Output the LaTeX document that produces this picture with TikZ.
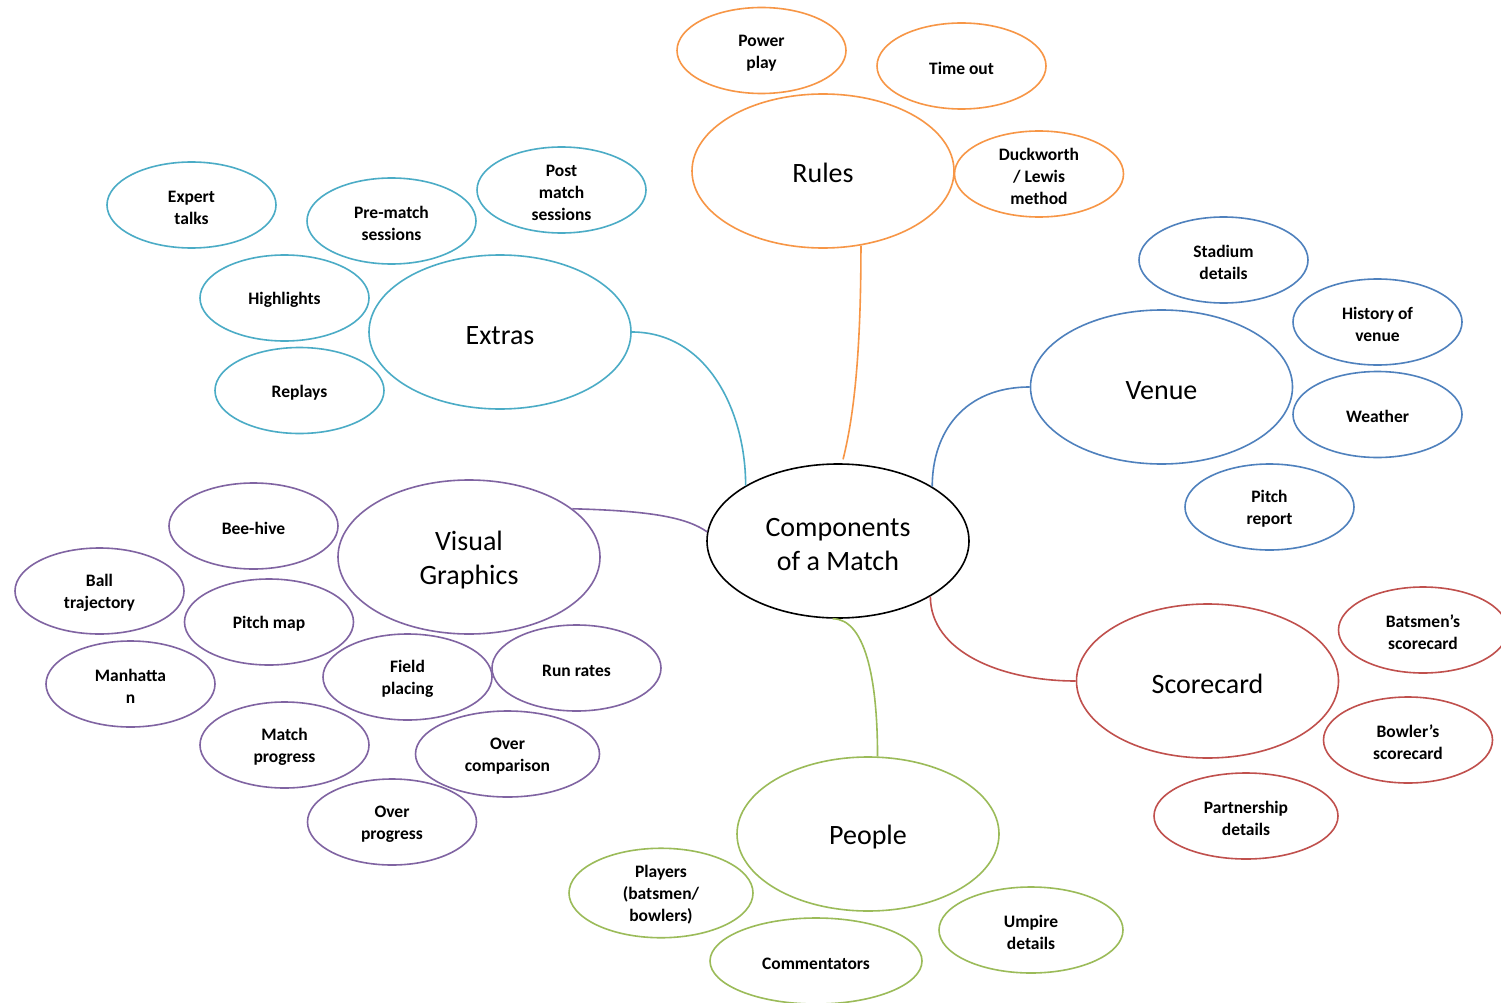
\documentclass[tikz,border=0pt]{standalone}
\usepackage{fontspec}
\setmainfont{Carlito}
\usetikzlibrary{shapes.geometric}
\definecolor{corange}{HTML}{F79646}
\definecolor{cteal}{HTML}{4BACC6}
\definecolor{cblue}{HTML}{4F81BD}
\definecolor{cred}{HTML}{C0504D}
\definecolor{cpurple}{HTML}{8064A2}
\definecolor{cgreen}{HTML}{9BBB59}
\newcommand{\tfix}{\rule{0pt}{0.95em}}
\newcommand{\tfixb}{\rule{0pt}{0.92em}}
\begin{document}
\begin{tikzpicture}[x=1pt,y=-1pt,
  bub/.style={ellipse, draw, line width=1.6pt, inner sep=0pt, minimum width=169pt, minimum height=86pt, align=center, font=\fontsize{17.5}{22}\selectfont\bfseries},
  wbub/.style={bub, minimum width=184pt},
  big/.style={ellipse, draw, line width=1.6pt, inner sep=0pt, minimum width=262pt, minimum height=154pt, align=center, font=\fontsize{28}{34}\selectfont},
  link/.style={line width=1.6pt}]
\useasboundingbox (0,0) rectangle (1501,1003);
\clip (0,0) rectangle (1501,1003);
\fill[white] (0,0) rectangle (1501,1003);

% centre
\node[big, draw=black] (comp) at (838,541) {\tfixb Components\\of a Match};

% Rules
\node[big, draw=corange] (rules) at (823,171) {\rule{0pt}{0.8em}Rules};
\node[bub, draw=corange] (power) at (761.5,50.5) {\tfix Power\\play};
\node[bub, draw=corange] (timeout) at (961.5,66) {\tfix Time out};
\node[bub, draw=corange] (dl) at (1039,174) {\tfix Duckworth\\/ Lewis\\method};

% Extras
\node[big, draw=cteal] (extras) at (500,332) {\tfixb Extras};
\node[bub, draw=cteal] (expert) at (191.5,205) {\tfix Expert\\talks};
\node[bub, draw=cteal] (prematch) at (391.5,221) {\tfix Pre-match\\sessions};
\node[bub, draw=cteal] (postmatch) at (561.5,190) {\tfix Post\\match\\sessions};
\node[bub, draw=cteal] (highlights) at (284.5,298) {\tfix Highlights};
\node[bub, draw=cteal] (replays) at (299.5,390.5) {\tfix Replays};

% Venue
\node[big, draw=cblue] (venue) at (1161.5,387) {\tfixb Venue};
\node[bub, draw=cblue] (stadium) at (1223.5,260) {\tfix Stadium\\details};
\node[bub, draw=cblue] (history) at (1377.5,322) {\tfix History of\\venue};
\node[bub, draw=cblue] (weather) at (1377.5,414.5) {\tfix Weather};
\node[bub, draw=cblue] (pitchrep) at (1269.5,507) {\tfix Pitch\\report};

% Visual Graphics
\node[big, draw=cpurple] (vis) at (469,557) {\tfixb Visual\\Graphics};
\node[bub, draw=cpurple] (beehive) at (253.5,526) {\tfix Bee-hive};
\node[bub, draw=cpurple] (ball) at (99.5,591) {\tfix Ball\\trajectory};
\node[bub, draw=cpurple] (pitchmap) at (269,622) {\tfix Pitch map};
\node[bub, draw=cpurple] (manhattan) at (130.5,684) {\tfix Manhatta\\n};
\node[bub, draw=cpurple] (field) at (407.5,677) {\tfix Field\\placing};
\node[bub, draw=cpurple] (runrates) at (576.5,668) {\tfix Run rates};
\node[bub, draw=cpurple] (matchprog) at (284.5,745) {\tfix Match\\progress};
\node[wbub, draw=cpurple] (overcomp) at (507.5,754) {\tfix Over\\comparison};
\node[bub, draw=cpurple] (overprog) at (392,822) {\tfix Over\\progress};

% Scorecard
\node[big, draw=cred] (score) at (1207.5,681) {\tfixb Scorecard};
\node[bub, draw=cred] (bats) at (1423,630) {\tfix Batsmen’s\\scorecard};
\node[bub, draw=cred] (bowl) at (1408,740) {\tfix Bowler’s\\scorecard};
\node[wbub, draw=cred] (partner) at (1246,816) {\tfix Partnership\\details};

% People
\node[big, draw=cgreen] (people) at (868,834) {\tfixb People};
\node[wbub, draw=cgreen] (players) at (661,893) {\tfix Players\\(batsmen/\\bowlers)};
\node[bub, draw=cgreen, minimum width=212pt] (comm) at (816,961) {\tfix Commentators};
\node[wbub, draw=cgreen] (umpire) at (1031,930) {\tfix Umpire\\details};

% connectors
\draw[link, cteal] (extras.east) .. controls +(75,0) and +(0,-75) .. (comp.149);
\draw[link, corange, shorten >=4pt] (rules.-63) .. controls +(0,120) and +(10,-40) .. (comp.87);
\draw[link, cblue] (venue.west) .. controls +(-65,0) and +(0,-55) .. (comp.30);
\draw[link, cpurple] (vis.25) .. controls +(80,2) and +(-20,-14) .. (comp.176);
\draw[link, cred] (comp.-31) .. controls +(0,55) and +(-75,0) .. (score.west);
\draw[link, cgreen] (comp.266) .. controls +(32,0) and +(0,-80) .. (people.83);
\end{tikzpicture}
\end{document}
